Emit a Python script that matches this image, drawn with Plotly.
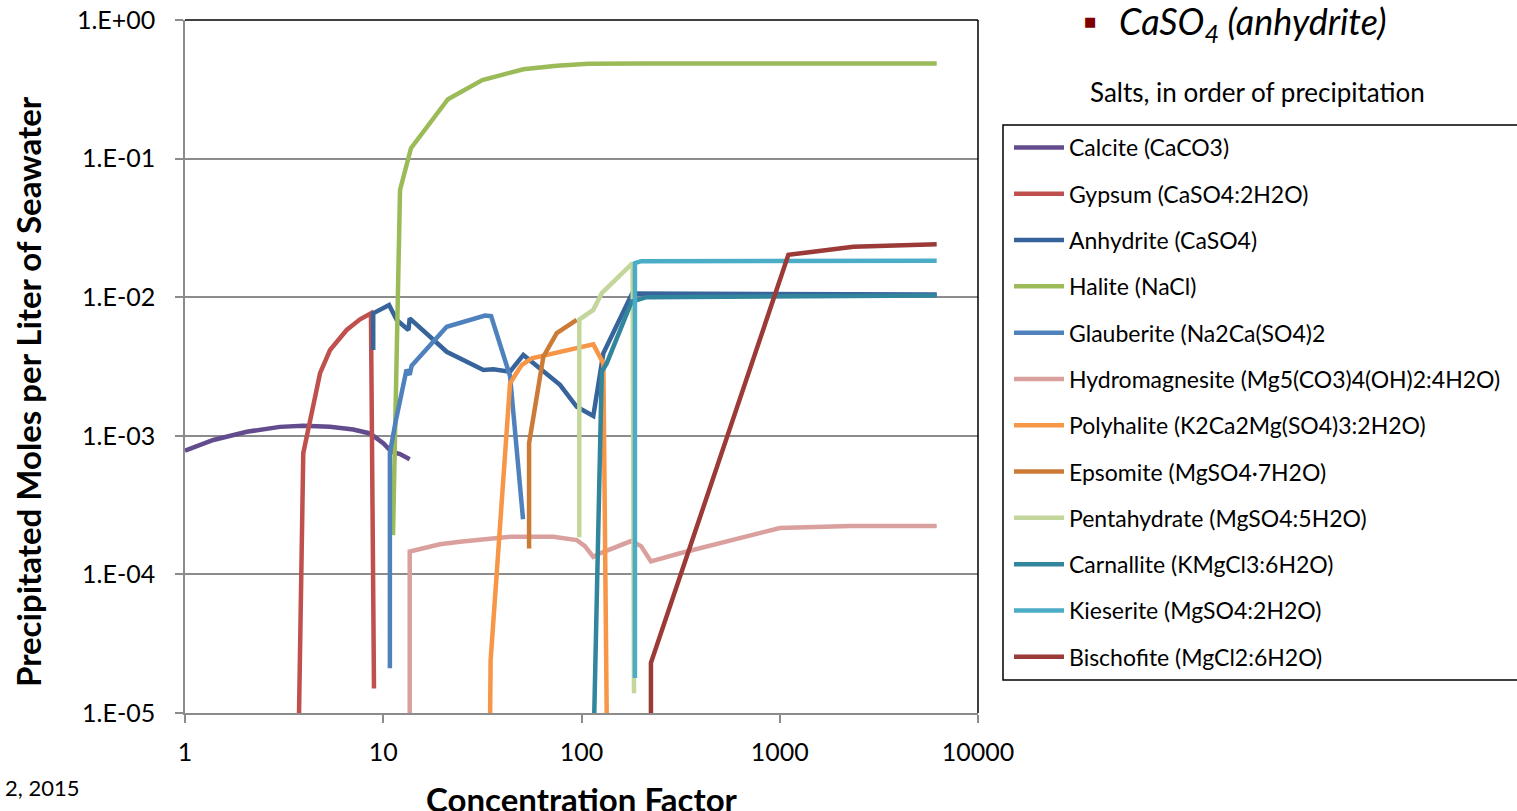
import plotly.graph_objects as go

# ---------------- data ----------------
calcite_x = [1, 1.39, 2.05, 3.01, 3.95, 5.39, 7.06, 8.57, 10.0, 11.0, 12.15, 13.6]
calcite_y = [7.81e-4, 9.33e-4, 1.07e-3, 1.16e-3, 1.18e-3, 1.16e-3, 1.11e-3, 1.04e-3, 8.83e-4, 7.68e-4, 7.39e-4, 6.77e-4]

gypsum_x = [3.76, 3.95, 4.8, 5.39, 6.54, 7.64, 8.67, 8.98]
gypsum_y = [1.0e-5, 7.5e-4, 2.83e-3, 4.16e-3, 5.8e-3, 6.92e-3, 7.65e-3, 1.5e-5]

anhydrite_x = [8.9, 8.9, 10.7, 11.7, 13.4, 13.6, 20.9, 32.0, 35.9, 43.6, 50.9, 77.9, 94.6, 114.7, 128.9, 180, 6190]
anhydrite_y = [4.16e-3, 7.65e-3, 8.79e-3, 6.85e-3, 5.8e-3, 7.04e-3, 4.04e-3, 2.98e-3, 3.02e-3, 2.9e-3, 3.83e-3, 2.33e-3, 1.62e-3, 1.39e-3, 3.94e-3, 1.064e-2, 1.045e-2]

halite_x = [11.2, 12.15, 13.8, 21.2, 31.6, 50.9, 75, 108.6, 200, 6190]
halite_y = [1.92e-4, 5.93e-2, 0.119, 0.268, 0.369, 0.441, 0.468, 0.484, 0.486, 0.486]

glauberite_x = [10.8, 10.8, 11.5, 12.6, 13.1, 13.6, 13.9, 20.9, 32.6, 35.0, 43.6, 50.7]
glauberite_y = [2.1e-5, 7.5e-4, 1.23e-3, 2.4e-3, 3.0e-3, 2.75e-3, 3.2e-3, 6.12e-3, 7.38e-3, 7.3e-3, 2.7e-3, 2.5e-4]

hydromag_x = [13.6, 13.6, 19.3, 24.4, 43.6, 72.1, 94.6, 104, 114.7, 124, 177.8, 199.7, 224, 314, 1000, 2261, 6190]
hydromag_y = [1.0e-5, 1.46e-4, 1.65e-4, 1.72e-4, 1.87e-4, 1.87e-4, 1.77e-4, 1.6e-4, 1.34e-4, 1.42e-4, 1.74e-4, 1.6e-4, 1.24e-4, 1.42e-4, 2.16e-4, 2.23e-4, 2.23e-4]

polyhalite_x = [34.6, 34.8, 43.6, 49.9, 56.1, 87.5, 114.7, 128.9, 134]
polyhalite_y = [1.0e-5, 2.4e-5, 2.39e-3, 3.24e-3, 3.62e-3, 4.16e-3, 4.57e-3, 3.33e-3, 1.0e-5]

epsomite_x = [54.4, 54.4, 64.2, 75, 94.6]
epsomite_y = [1.54e-4, 8.83e-4, 3.72e-3, 5.5e-3, 6.85e-3]

pentahydrate_x = [97.5, 97.5, 114.7, 126.5, 181, 184]
pentahydrate_y = [1.85e-4, 6.9e-3, 8.1e-3, 1.07e-2, 1.76e-2, 1.39e-5]

carnallite_x = [116, 126.5, 134, 179, 213, 6190]
carnallite_y = [1.0e-5, 2.9e-3, 3.33e-3, 9.28e-3, 1.0e-2, 1.03e-2]

kieserite_x = [186, 186, 200, 6190]
kieserite_y = [1.79e-5, 1.76e-2, 1.82e-2, 1.83e-2]

bischofite_x = [224, 224, 1105, 2350, 6190]
bischofite_y = [1.0e-5, 2.3e-5, 2.02e-2, 2.31e-2, 2.41e-2]

names = ["Calcite (CaCO3)", "Gypsum (CaSO4:2H2O)", "Anhydrite (CaSO4)", "Halite (NaCl)",
         "Glauberite (Na2Ca(SO4)2", "Hydromagnesite (Mg5(CO3)4(OH)2:4H2O)",
         "Polyhalite (K2Ca2Mg(SO4)3:2H2O)", "Epsomite (MgSO4·7H2O)",
         "Pentahydrate (MgSO4:5H2O)", "Carnallite (KMgCl3:6H2O)",
         "Kieserite (MgSO4:2H2O)", "Bischofite (MgCl2:6H2O)"]
colors = ["#624C8D", "#C0504D", "#38649C", "#9BBB59", "#4F81BD", "#D9A09E",
          "#F79646", "#CC7B36", "#C3D69B", "#31859C", "#4BACC6", "#9B3A37"]
xs = [calcite_x, gypsum_x, anhydrite_x, halite_x, glauberite_x, hydromag_x,
      polyhalite_x, epsomite_x, pentahydrate_x, carnallite_x, kieserite_x, bischofite_x]
ys = [calcite_y, gypsum_y, anhydrite_y, halite_y, glauberite_y, hydromag_y,
      polyhalite_y, epsomite_y, pentahydrate_y, carnallite_y, kieserite_y, bischofite_y]

x_tickvals = [1, 10, 100, 1000, 10000]
x_ticktext = ["1", "10", "100", "1000", "10000"]
y_tickvals = [1e-5, 1e-4, 1e-3, 1e-2, 1e-1, 1]
y_ticktext = ["1.E-05", "1.E-04", "1.E-03", "1.E-02", "1.E-01", "1.E+00"]

# ---------------- layout geometry ----------------
W, H = 1517, 811
PL, PR, PT, PB = 185, 978, 20, 713


def px(xp):
    return (xp - PL) / (PR - PL)


def py(yp):
    return (PB - yp) / (PB - PT)


FONT = "Lato"
GRID = "#8C8C8C"

fig = go.Figure()
for i, (n, c, x, y) in enumerate(zip(names, colors, xs, ys)):
    fig.add_trace(go.Scatter(x=x, y=y, mode="lines", name=n, legendgroup="g%d" % i,
                             line=dict(color=c, width=4.5)))

fig.update_layout(
    width=W, height=H,
    margin=dict(l=PL, r=W - PR, t=PT, b=H - PB, autoexpand=False),
    paper_bgcolor="white", plot_bgcolor="white",
    font=dict(family=FONT, color="black"),
    showlegend=True,
    legend=dict(x=px(1009), y=py(126), xanchor="left", yanchor="top",
                font=dict(family=FONT, size=23, color="black"),
                bgcolor="rgba(0,0,0,0)", borderwidth=0,
                tracegroupgap=13.4, itemwidth=50),
    xaxis=dict(type="log", range=[0, 4], tickvals=x_tickvals, ticktext=x_ticktext,
               automargin=False,
               showgrid=False, zeroline=False, showline=True, linecolor=GRID, linewidth=1.5,
               ticks="outside", ticklen=8, tickcolor=GRID, tickwidth=1.5,
               tickfont=dict(family=FONT, size=25, color="black"), ticklabelstandoff=8),
    yaxis=dict(type="log", range=[-5, 0], tickvals=y_tickvals, ticktext=y_ticktext,
               automargin=False,
               showgrid=True, gridcolor=GRID, gridwidth=1.5, zeroline=False,
               showline=True, linecolor=GRID, linewidth=1.5,
               ticks="outside", ticklen=8, tickcolor=GRID, tickwidth=1.5,
               tickfont=dict(family=FONT, size=25, color="black"), ticklabelstandoff=15),
)

# plot-area border on top and right, legend box
fig.add_shape(type="line", xref="paper", yref="paper", x0=0, x1=1, y0=1, y1=1,
              line=dict(color="black", width=1.5))
fig.add_shape(type="line", xref="paper", yref="paper", x0=1, x1=1, y0=0, y1=1,
              line=dict(color="black", width=1.5))
fig.add_shape(type="rect", xref="paper", yref="paper", x0=px(1003), x1=px(1530),
              y0=py(680), y1=py(125), line=dict(color="black", width=1.5))

ann = [
    dict(text="■", x=px(1090), y=py(21), xanchor="center", yanchor="middle",
         font=dict(size=13, color="#7F0000", family="DejaVu Sans")),
    dict(text="<i>CaSO<sub>4</sub> (anhydrite)</i>", x=px(1117), y=py(24), xanchor="left",
         yanchor="middle", font=dict(size=36, family=FONT)),
    dict(text="Salts, in order of precipitation", x=px(1257), y=py(92), xanchor="center",
         yanchor="middle", font=dict(size=26, family=FONT)),
    dict(text="2, 2015", x=px(81), y=py(787), xanchor="right", yanchor="middle",
         font=dict(size=22, family=FONT)),
    dict(text="<b>Concentration Factor</b>", x=px(582), y=py(799), xanchor="center",
         yanchor="middle", font=dict(size=33, family=FONT)),
    dict(text="<b>Precipitated Moles per Liter of Seawater</b>", x=px(28), y=py(392),
         xanchor="center", yanchor="middle", textangle=-90, font=dict(size=33, family=FONT)),
]
for a in ann:
    fig.add_annotation(xref="paper", yref="paper", showarrow=False, **a)

fig.write_html("out.html")
